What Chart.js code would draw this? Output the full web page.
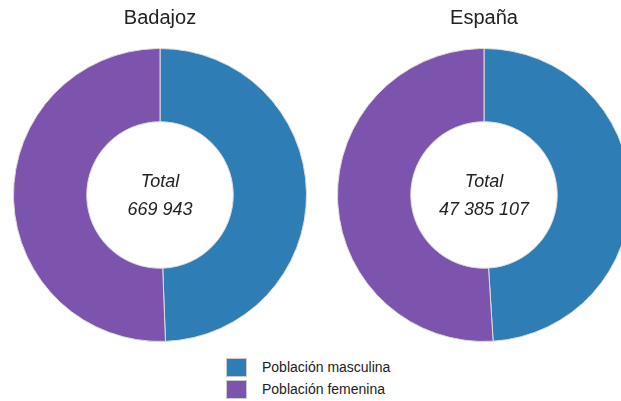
<!DOCTYPE html>
<html>
<head>
<meta charset="utf-8">
<script src="https://cdn.jsdelivr.net/npm/chart.js@4.4.0/dist/chart.umd.min.js"></script>
<style>
  body { margin: 0; background: #fff; font-family: "Liberation Sans", Arial, sans-serif; }
  #wrap { position: relative; width: 621px; height: 401px; overflow: hidden; }
  .box { position: absolute; top: 0; width: 294px; height: 342px; }
  #legend { position: absolute; left: 226px; top: 356px; font-size: 14px; color: #222; }
  .item { height: 22px; display: flex; align-items: center; }
  .sw { width: 21px; height: 19px; margin-right: 15px; box-sizing: border-box; border: 1px solid #ccc; }
</style>
</head>
<body>
<div id="wrap">
  <div class="box" style="left:13px"><canvas id="c1"></canvas></div>
  <div class="box" style="left:337px"><canvas id="c2"></canvas></div>
  <div id="legend"></div>
</div>
<script>
const categories = ['Población masculina', 'Población femenina'];
const colors = ['#2f7db5', '#7c53ad'];
const places = ['Badajoz', 'España'];
const badajozValues = [331000, 338943];
const espanaValues = [23222953, 24162154];
const totals = ['669 943', '47 385 107'];

// texto central
const centerText = {
  id: 'centerText',
  afterDraw(chart, args, opts) {
    const ctx = chart.ctx;
    const a = chart.chartArea;
    const x = (a.left + a.right) / 2;
    const y = (a.top + a.bottom) / 2;
    ctx.save();
    ctx.fillStyle = '#222';
    ctx.font = 'italic 18px "Liberation Sans", Arial, sans-serif';
    ctx.textAlign = 'center';
    ctx.textBaseline = 'middle';
    ctx.fillText('Total', x, y - 13);
    ctx.fillText(opts.total, x, y + 15);
    ctx.restore();
  }
};

function makeChart(id, title, values, total) {
  new Chart(document.getElementById(id), {
    type: 'doughnut',
    data: {
      labels: categories,
      datasets: [{
        data: values,
        backgroundColor: colors,
        borderColor: '#dddddd',
        borderWidth: 1
      }]
    },
    options: {
      responsive: true,
      maintainAspectRatio: false,
      animation: false,
      cutout: '50%',
      layout: { padding: 0 },
      plugins: {
        legend: { display: false },
        tooltip: { enabled: false },
        title: {
          display: true,
          text: title,
          color: '#222',
          font: { family: '"Liberation Sans", Arial, sans-serif', size: 20, weight: 'normal' },
          padding: { top: 6, bottom: 18 }
        },
        centerText: { total: total }
      }
    },
    plugins: [centerText]
  });
}

makeChart('c1', places[0], badajozValues, totals[0]);
makeChart('c2', places[1], espanaValues, totals[1]);

const legend = document.getElementById('legend');
categories.forEach((c, i) => {
  const item = document.createElement('div');
  item.className = 'item';
  item.innerHTML = '<span class="sw" style="background:' + colors[i] + '"></span><span>' + c + '</span>';
  legend.appendChild(item);
});
</script>
</body>
</html>
